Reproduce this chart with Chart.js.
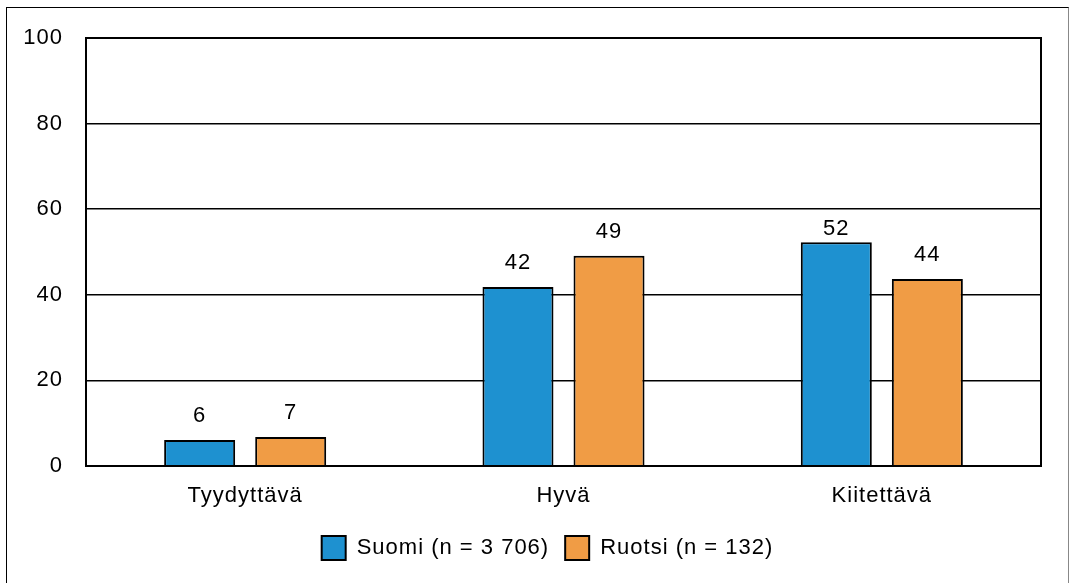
<!DOCTYPE html>
<html>
<head>
<meta charset="utf-8">
<script src="https://cdn.jsdelivr.net/npm/chart.js@4"></script>
<style>
  html, body { margin: 0; padding: 0; background: #fff; }
  #frame { position: absolute; left: 6px; top: 7px; width: 1063px; height: 590px; border: 1px solid #000; border-right-color: #888; box-sizing: border-box; }
  #wrap { position: absolute; left: 0; top: 0; width: 1069px; height: 583px; }
</style>
</head>
<body>
<div id="frame"></div>
<div id="wrap"><canvas id="mycanvas"></canvas></div>
<script>
var categories = ['Tyydyttävä', 'Hyvä', 'Kiitettävä'];
var suomi = [6.1, 41.8, 52.3];
var ruotsi = [6.8, 49.1, 43.7];
var seriesNames = ['Suomi (n = 3 706)', 'Ruotsi (n = 132)'];
var yTicks = [0, 20, 40, 60, 80, 100];

var family = '"Liberation Sans", Arial, sans-serif';
var font = { family: family, size: 22 };
var legendFont = { family: family, size: 22, lineHeight: 1 };

// gap between value label baseline and bar top, per dataset / category
var labelGap = [[18, 18, 7], [18, 18, 18]];

// wider letter spacing like the original rendering (canvas resize resets it, so set it each time)
var spacing = {
  id: 'spacing',
  beforeUpdate: function(chart) { chart.ctx.letterSpacing = '1px'; },
  beforeLayout: function(chart) { chart.ctx.letterSpacing = '1px'; },
  beforeDraw: function(chart) { chart.ctx.letterSpacing = '1px'; }
};

// legend is centred under the plot area in the original
var legendShift = {
  id: 'legendShift',
  beforeDraw: function(chart) {
    var lg = chart.legend;
    if (!lg) return;
    lg.left = 54;
    lg.width = lg.right - lg.left;
    if (lg.adjustHitBoxes) lg.adjustHitBoxes();
  }
};

// numbers above the bars
var valueLabels = {
  id: 'valueLabels',
  afterDatasetsDraw: function(chart) {
    var ctx = chart.ctx;
    ctx.save();
    ctx.fillStyle = '#000';
    ctx.font = font.size + 'px ' + family;
    ctx.letterSpacing = '1px';
    ctx.textAlign = 'center';
    ctx.textBaseline = 'alphabetic';
    chart.data.datasets.forEach(function(ds, i) {
      chart.getDatasetMeta(i).data.forEach(function(bar, j) {
        ctx.fillText(Math.round(ds.data[j]), bar.x, bar.y - labelGap[i][j]);
      });
    });
    ctx.restore();
  }
};

// black frame round the plot area
var plotFrame = {
  id: 'plotFrame',
  afterDraw: function(chart) {
    var a = chart.chartArea, ctx = chart.ctx;
    ctx.save();
    ctx.strokeStyle = '#000';
    ctx.lineWidth = 2;
    ctx.strokeRect(a.left, a.top, a.right - a.left, a.bottom - a.top);
    ctx.restore();
  }
};

var ctx = document.getElementById('mycanvas');
new Chart(ctx, {
  type: 'bar',
  data: {
    labels: categories,
    datasets: [
      { label: seriesNames[0], data: suomi, backgroundColor: 'rgb(30,145,208)', borderColor: '#000', borderWidth: 2 },
      { label: seriesNames[1], data: ruotsi, backgroundColor: 'rgb(240,156,69)', borderColor: '#000', borderWidth: 2 }
    ]
  },
  options: {
    responsive: true,
    maintainAspectRatio: false,
    animation: false,
    layout: { padding: { left: 0, top: 38, right: 28, bottom: 13 } },
    datasets: { bar: { categoryPercentage: 0.572, barPercentage: 0.78 } },
    plugins: {
      legend: {
        position: 'bottom',
        labels: { font: legendFont, color: '#000', boxWidth: 24, boxHeight: 24, padding: 16 }
      },
      tooltip: { enabled: false }
    },
    scales: {
      x: {
        grid: { display: false, drawTicks: false },
        border: { color: '#000', width: 2 },
        ticks: { font: font, color: '#000', padding: 17 },
        afterFit: function(scale) { scale.height = 54; }
      },
      y: {
        min: 0,
        max: 100,
        afterBuildTicks: function(scale) {
          scale.ticks = yTicks.map(function(v) { return { value: v }; });
        },
        grid: { color: '#000', lineWidth: 1.5, drawTicks: false },
        border: { color: '#000', width: 2 },
        ticks: { font: font, color: '#000', padding: 23 },
        afterFit: function(scale) { scale.width = 86; }
      }
    }
  },
  plugins: [spacing, legendShift, valueLabels, plotFrame]
});
</script>
</body>
</html>
